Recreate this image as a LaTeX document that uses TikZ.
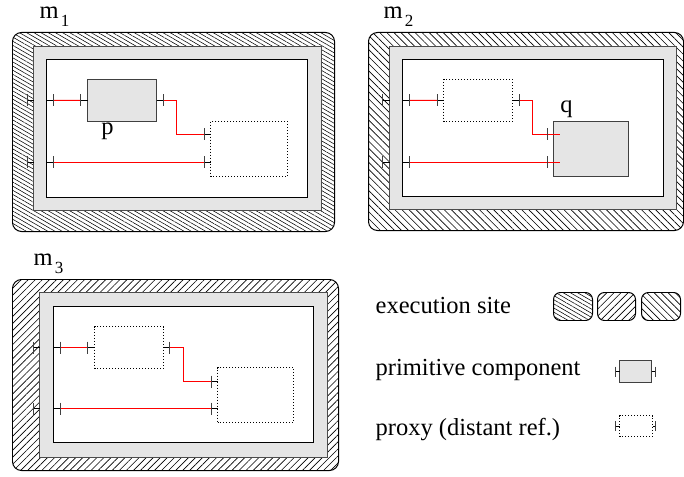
\documentclass[tikz,border=0pt]{standalone}
\usepackage{fontspec}
\setmainfont{Liberation Serif}
\usetikzlibrary{patterns.meta,positioning}

\tikzset{
  site/.style={draw, line width=1pt, rounded corners=9bp, inner sep=0, outer sep=0, anchor=north west},
  frame/.style={draw=black!70, fill=black!10, line width=1pt, inner sep=0, outer sep=0, anchor=north west},
  inner/.style={draw, fill=white, line width=1pt, inner sep=0, outer sep=0, anchor=north west},
  prim/.style={draw=black!75, fill=black!10, line width=1pt, inner sep=0, outer sep=0, anchor=north west},
  proxy/.style={draw, dotted, line width=1pt, inner sep=0, outer sep=0, anchor=north west},
  wire/.style={draw=red, line width=1pt},
  stub/.style={draw=black, line width=1pt},
  tickmark/.style={draw=black!75, line width=1pt},
  hatchA/.style={pattern={Lines[angle=-30,distance=3.6pt,line width=0.55pt]}},
  hatchB/.style={pattern={Lines[angle=-45,distance=5pt,line width=0.65pt]}},
  hatchC/.style={pattern={Lines[angle=45,distance=5pt,line width=0.65pt]}},
  lbl/.style={font=\fontsize{24.5bp}{28bp}\selectfont, inner sep=0},
  mlbl/.style={lbl, text height=12bp, anchor=base west},
}
\newcommand\porttick[1]{\draw[tickmark] (#1) +(0,-6) -- +(0,6);}
\newcommand\smalltick[1]{\draw[tickmark] (#1) +(0,-5) -- +(0,5);}
\newcommand\msite[1]{m\hspace{2bp}\raisebox{-8bp}{\fontsize{17bp}{20bp}\selectfont #1}}

\begin{document}
\begin{tikzpicture}[x=1bp,y=-1bp]
  \useasboundingbox (-0.5,-0.5) rectangle (683.5,476.5);

  % execution sites
  \node[site, hatchA, minimum width=322bp, minimum height=199bp] (m1) at (12,32) {};
  \node[frame, minimum width=288bp, minimum height=164bp] (m1f) at (33,46) {};
  \node[inner, minimum width=261bp, minimum height=138bp] (m1i) at (46,59) {};
  \node[mlbl] (m1l) at (39,18) {\msite{1}};

  \node[site, hatchB, minimum width=315bp, minimum height=198bp] (m2) at (368,32) {};
  \node[frame, minimum width=287bp, minimum height=163bp] (m2f) at (389,46) {};
  \node[inner, minimum width=261bp, minimum height=137bp] (m2i) at (402,59) {};
  \node[mlbl] (m2l) at (383,18) {\msite{2}};

  \node[site, hatchC, minimum width=326bp, minimum height=191bp] (m3) at (12,279) {};
  \node[frame, minimum width=288bp, minimum height=165bp] (m3f) at (39,292) {};
  \node[inner, minimum width=260bp, minimum height=136bp] (m3i) at (53,306) {};
  \node[mlbl] (m3l) at (33,265) {\msite{3}};

  % legend
  \node[lbl, anchor=base west] (lsite) at (375,313) {execution site};
  \node[lbl, anchor=base west] (lprim) at (375,375) {primitive component};
  \node[lbl, anchor=base west] (lproxy) at (375,435) {proxy (distant ref.)};
  \node[site, hatchA, rounded corners=7bp, minimum width=39bp, minimum height=28bp] (s1) at (553,292) {};
  \node[site, hatchC, rounded corners=7bp, minimum width=38bp, minimum height=28bp, right=5bp of s1.north east, anchor=north west] (s2) {};
  \node[site, hatchB, rounded corners=7bp, minimum width=39bp, minimum height=28bp, right=6bp of s2.north east, anchor=north west] (s3) {};
  \node[prim, minimum width=32bp, minimum height=22bp] (kp) at (619,360) {};
  \node[proxy, minimum width=33bp, minimum height=21bp] (kx) at (619,415) {};

  % components and proxies
  \node[prim, minimum width=69bp, minimum height=42bp] (p) at (87,79) {};
  \node[lbl, anchor=base] (pl) at (107,134) {p};
  \node[proxy, minimum width=77bp, minimum height=55bp] (m1x) at (210,121) {};
  \node[proxy, minimum width=69bp, minimum height=42bp] (m2x) at (443,79) {};
  \node[prim, minimum width=75bp, minimum height=55bp] (q) at (553,121) {};
  \node[lbl, anchor=base] (ql) at (566,112) {q};
  \node[proxy, minimum width=69bp, minimum height=42bp] (m3x) at (94,326) {};
  \node[proxy, minimum width=76bp, minimum height=55bp] (m3y) at (217,367) {};

  % ports (m1)
  \draw[stub] (m1f.west |- 0,100) -- ++(-6,0) coordinate (m1o1);
  \draw[stub] (m1i.west |- 0,100) -- ++(7,0) coordinate (m1a1);
  \draw[stub] (p.west) -- ++(-7,0) coordinate (m1b1);
  \draw[stub] (p.east) -- ++(7,0) coordinate (m1c1);
  \draw[stub] (m1x.west |- 0,134) -- ++(-6,0) coordinate (m1d1);
  \draw[stub] (m1f.west |- 0,162) -- ++(-6,0) coordinate (m1o2);
  \draw[stub] (m1i.west |- 0,162) -- ++(7,0) coordinate (m1a2);
  \draw[stub] (m1x.west |- 0,162) -- ++(-6,0) coordinate (m1d2);
  % ports (m2)
  \draw[stub] (m2f.west |- 0,100) -- ++(-7,0) coordinate (m2o1);
  \draw[stub] (m2i.west |- 0,100) -- ++(7,0) coordinate (m2a1);
  \draw[stub] (m2x.west) -- ++(-6,0) coordinate (m2b1);
  \draw[stub] (m2x.east) -- ++(7,0) coordinate (m2c1);
  \draw[stub] (q.west |- 0,134) -- ++(-6,0) coordinate (m2d1);
  \coordinate (m2e1) at ([xshift=6bp]q.west |- 0,134);
  \draw[stub] (m2f.west |- 0,162) -- ++(-7,0) coordinate (m2o2);
  \draw[stub] (m2i.west |- 0,162) -- ++(7,0) coordinate (m2a2);
  \draw[stub] (q.west |- 0,162) -- ++(-6,0) coordinate (m2d2);
  \coordinate (m2e2) at ([xshift=6bp]q.west |- 0,162);
  % ports (m3)
  \draw[stub] (m3f.west |- 0,347) -- ++(-6,0) coordinate (m3o1);
  \draw[stub] (m3i.west |- 0,347) -- ++(7,0) coordinate (m3a1);
  \draw[stub] (m3x.west |- 0,347) -- ++(-7,0) coordinate (m3b1);
  \draw[stub] (m3x.east |- 0,347) -- ++(6,0) coordinate (m3c1);
  \draw[stub] (m3y.west |- 0,381) -- ++(-6,0) coordinate (m3d1);
  \draw[stub] (m3f.west |- 0,408) -- ++(-6,0) coordinate (m3o2);
  \draw[stub] (m3i.west |- 0,408) -- ++(7,0) coordinate (m3a2);
  \draw[stub] (m3y.west |- 0,408) -- ++(-6,0) coordinate (m3d2);
  % ports (legend)
  \draw[stub] (kp.west) -- ++(-4,0) coordinate (kp1);
  \draw[stub] (kp.east) -- ++(4,0) coordinate (kp2);
  \draw[stub] (kx.west) -- ++(-4,0) coordinate (kx1);
  \draw[stub] (kx.east) -- ++(3,0) coordinate (kx2);

  % bindings
  \draw[wire] (m1a1) -- (m1b1);
  \draw[wire] (m1c1) -- ++(13,0) |- (m1d1);
  \draw[wire] (m1a2) -- (m1d2);
  \draw[wire] (m2a1) -- (m2b1);
  \draw[wire] (m2c1) -- ++(13,0) |- (m2e1);
  \draw[wire] (m2a2) -- (m2e2);
  \draw[wire] (m3a1) -- (m3b1);
  \draw[wire] (m3c1) -- ++(14,0) |- (m3d1);
  \draw[wire] (m3a2) -- (m3d2);

  \foreach \c in {m1o1,m1a1,m1b1,m1c1,m1d1,m1o2,m1a2,m1d2,
                  m2o1,m2a1,m2b1,m2c1,m2d1,m2o2,m2a2,m2d2,
                  m3o1,m3a1,m3b1,m3c1,m3d1,m3o2,m3a2,m3d2}
    {\porttick{\c}}
  \foreach \c in {kp1,kp2,kx1,kx2}
    {\smalltick{\c}}
\end{tikzpicture}
\end{document}
